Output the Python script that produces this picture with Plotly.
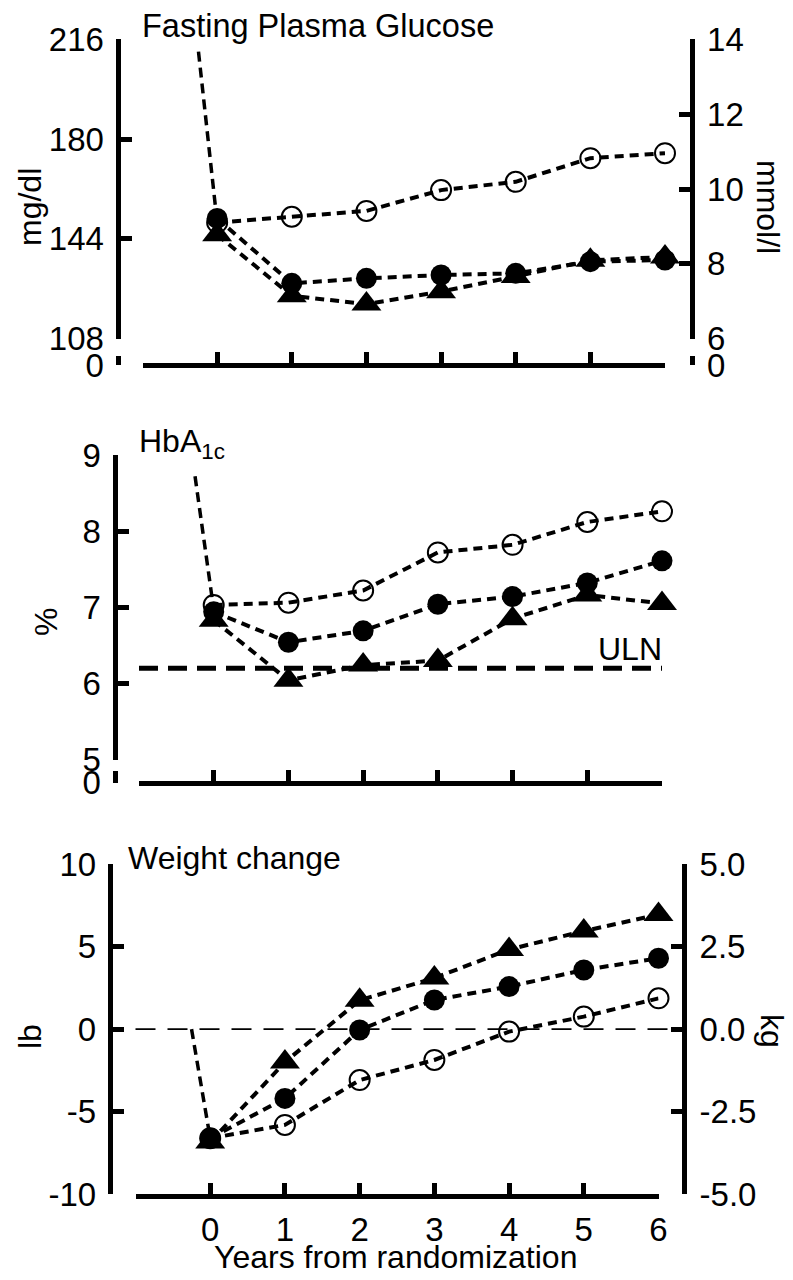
import plotly.graph_objects as go

# ---------------- data ----------------
YEARS = [0, 1, 2, 3, 4, 5, 6]
BASE_X = [-0.25, 0]

FPG_OPEN = [149.9, 152.0, 154.1, 161.6, 164.6, 173.1, 174.9]
FPG_FILLED = [151.4, 128.0, 129.8, 131.0, 131.6, 135.8, 136.4]
FPG_TRI = [145.5, 123.5, 120.5, 125.0, 130.5, 136.3, 137.5]
FPG_BASE = [211.5, 150.0]

HBA_OPEN = [7.03, 7.06, 7.22, 7.72, 7.82, 8.12, 8.26]
HBA_FILLED = [6.94, 6.54, 6.69, 7.04, 7.14, 7.32, 7.61]
HBA_TRI = [6.83, 6.04, 6.24, 6.30, 6.85, 7.16, 7.05]
HBA_BASE = [8.72, 6.97]
ULN_X = [-1, 6]
ULN_Y = [6.2, 6.2]

WT_OPEN = [-6.62, -5.81, -3.09, -1.87, -0.15, 0.76, 1.87]
WT_FILLED = [-6.62, -4.20, -0.05, 1.77, 2.58, 3.59, 4.30]
WT_TRI = [-6.85, -2.00, 1.75, 3.10, 4.83, 5.95, 6.95]
WT_BASE = [0.0, -6.62]
WT_REF = 0.0

X_TICKS = [-1, 0, 1, 2, 3, 4, 5, 6]
X_TICK_TEXT = [" ", "0", "1", "2", "3", "4", "5", "6"]
FPG_TICKS = [108, 144, 180, 216]
MMOL_TICKS = [6, 8, 10, 12, 14]
HBA_TICKS = [5, 6, 7, 8, 9]
LB_TICKS = [-10, -5, 0, 5, 10]
LB_TICK_TEXT = ["-10", "-5", "0", "5", "10"]
KG_TICKS = [-5.0, -2.5, 0.0, 2.5, 5.0]
KG_TICK_TEXT = ["-5.0", "-2.5", "0.0", "2.5", "5.0"]
ZERO_TICK = [0]
ZERO_TEXT = ["0"]

# ---------------- layout helpers ----------------
W, H = 793, 1280
OFF = 8  # page offset of the plot inside the browser window
FONT = "Liberation Sans, Arial, sans-serif"
FS = 32
TFS = 33


def px(x):
    return (x - OFF) / W


def py(y):
    return 1 - (y - OFF) / H


LINE = dict(color="black", width=4, dash="9px,6px")
BASE_LINE = dict(color="black", width=3.5, dash="10px,6px")

fig = go.Figure()


def add_panel(xa, ya, open_v, filled_v, tri_v, base_v):
    fig.add_trace(go.Scatter(x=BASE_X, y=base_v, mode="lines", line=BASE_LINE,
                             xaxis=xa, yaxis=ya, hoverinfo="skip"))
    fig.add_trace(go.Scatter(x=YEARS, y=open_v, mode="lines+markers", line=LINE,
                             marker=dict(symbol="circle-open", size=20, color="black",
                                         line=dict(width=2, color="black")),
                             cliponaxis=False, xaxis=xa, yaxis=ya))
    fig.add_trace(go.Scatter(x=YEARS, y=tri_v, mode="lines+markers", line=LINE,
                             marker=dict(symbol="triangle-up", size=26, color="black"),
                             cliponaxis=False, xaxis=xa, yaxis=ya))
    fig.add_trace(go.Scatter(x=YEARS, y=filled_v, mode="lines+markers", line=LINE,
                             marker=dict(symbol="circle", size=21, color="black"),
                             cliponaxis=False, xaxis=xa, yaxis=ya))


def dummy(xa, ya):
    fig.add_trace(go.Scatter(x=[None], y=[None], mode="markers", xaxis=xa, yaxis=ya,
                             hoverinfo="skip"))


add_panel("x", "y", FPG_OPEN, FPG_FILLED, FPG_TRI, FPG_BASE)
dummy("x", "y2")
dummy("x", "y3")
dummy("x", "y4")

fig.add_trace(go.Scatter(x=ULN_X, y=ULN_Y, mode="lines",
                         line=dict(color="black", width=5, dash="19px,10px"),
                         xaxis="x2", yaxis="y5", hoverinfo="skip"))
add_panel("x2", "y5", HBA_OPEN, HBA_FILLED, HBA_TRI, HBA_BASE)
dummy("x2", "y6")

add_panel("x3", "y7", WT_OPEN, WT_FILLED, WT_TRI, WT_BASE)
dummy("x3", "y8")

TICKFONT = dict(family=FONT, size=TFS, color="black")
AX = dict(showgrid=False, zeroline=False, showline=True, linecolor="black",
          linewidth=5, ticks="inside", tickcolor="black", tickwidth=5,
          ticklen=11, tickfont=TICKFONT, fixedrange=True, automargin=False)

# panel 1 geometry (pixels in the photographed page)
P1_L, P1_R, P1_X0, P1_X6 = 117.5, 691.5, 142.5, 665
P1_TOP, P1_BOT, P1_ZERO, P1_ZTOP = 39.2, 338.8, 365, 356
# panel 2 geometry
P2_L, P2_X0, P2_X6 = 114.5, 139, 662
P2_TOP, P2_BOT, P2_ZERO, P2_ZTOP = 455, 759.5, 782.5, 771
# panel 3 geometry
P3_L, P3_R, P3_X0, P3_X6 = 109.7, 684, 135.5, 658.5
P3_TOP, P3_BOT = 864.3, 1194

LSO = 5   # left tick label standoff
RSO = 6   # right tick label standoff

fig.update_layout(
    width=W, height=H, autosize=False,
    margin=dict(l=0, r=0, t=0, b=0, pad=0, autoexpand=False),
    paper_bgcolor="white", plot_bgcolor="rgba(0,0,0,0)",
    showlegend=False,
    font=dict(family=FONT, color="black"),
    # ---- panel 1 ----
    xaxis=dict(AX, domain=[px(P1_X0), px(P1_X6)], range=[-1, 6], anchor="free",
               position=py(P1_ZERO), tickvals=X_TICKS, showticklabels=False),
    yaxis=dict(AX, domain=[py(P1_BOT), py(P1_TOP)], range=[108, 216], anchor="free",
               position=px(P1_L), tickvals=FPG_TICKS, ticklabelstandoff=LSO),
    yaxis2=dict(AX, overlaying="y", side="right", anchor="free", position=px(P1_R),
                range=[6, 14], tickvals=MMOL_TICKS, ticklabelstandoff=RSO),
    yaxis3=dict(AX, domain=[py(P1_ZERO), py(P1_ZTOP)], range=[0, 1], anchor="free",
                position=px(P1_L), tickvals=ZERO_TICK, ticktext=ZERO_TEXT,
                ticklabelstandoff=LSO),
    yaxis4=dict(AX, domain=[py(P1_ZERO), py(P1_ZTOP)], range=[0, 1], anchor="free",
                side="right", position=px(P1_R), tickvals=ZERO_TICK,
                ticktext=ZERO_TEXT, ticklabelstandoff=RSO),
    # ---- panel 2 ----
    xaxis2=dict(AX, domain=[px(P2_X0), px(P2_X6)], range=[-1, 6], anchor="free",
                position=py(P2_ZERO), tickvals=X_TICKS, showticklabels=False),
    yaxis5=dict(AX, domain=[py(P2_BOT), py(P2_TOP)], range=[5, 9], anchor="free",
                position=px(P2_L), tickvals=HBA_TICKS, ticklabelstandoff=LSO),
    yaxis6=dict(AX, domain=[py(P2_ZERO), py(P2_ZTOP)], range=[0, 1], anchor="free",
                position=px(P2_L), tickvals=ZERO_TICK, ticktext=ZERO_TEXT,
                ticklabelstandoff=LSO),
    # ---- panel 3 ----
    xaxis3=dict(AX, domain=[px(P3_X0), px(P3_X6)], range=[-1, 6], anchor="y7",
                tickvals=X_TICKS, ticktext=X_TICK_TEXT, ticklabelstandoff=2),
    yaxis7=dict(AX, domain=[py(P3_BOT), py(P3_TOP)], range=[-10, 10], anchor="free",
                position=px(P3_L), tickvals=LB_TICKS, ticktext=LB_TICK_TEXT,
                ticklabelstandoff=LSO),
    yaxis8=dict(AX, overlaying="y7", side="right", anchor="free", position=px(P3_R),
                range=[-5, 5], tickvals=KG_TICKS, ticktext=KG_TICK_TEXT,
                ticklabelstandoff=RSO),
)

# weight reference line at 0
fig.add_shape(type="line", xref="paper", yref="y7",
              x0=px(P3_X0), x1=px(681), y0=WT_REF, y1=WT_REF,
              line=dict(color="black", width=1.8, dash="20px,12px"))


def ann(text, x, y, xanchor="left", angle=0, size=FS):
    fig.add_annotation(text=text, x=px(x), y=py(y), xref="paper", yref="paper",
                       xanchor=xanchor, yanchor="middle", showarrow=False,
                       textangle=angle, font=dict(family=FONT, size=size, color="black"))


ann("Fasting Plasma Glucose", 140, 26, size=32.5)
ann("HbA<sub>1c</sub>", 137, 443)
ann("Weight change", 126, 858)
ann("ULN", 664, 649, xanchor="right")
ann("mg/dl", 30, 207, xanchor="center", angle=-90)
ann("mmol/l", 768, 207, xanchor="center", angle=90)
ann("%", 46, 622, xanchor="center", angle=-90)
ann("lb", 30, 1037, xanchor="center", angle=-90)
ann("kg", 772, 1031, xanchor="center", angle=90)
ann("Years from randomization", 395, 1257, xanchor="center")

fig.write_html("out.html")
